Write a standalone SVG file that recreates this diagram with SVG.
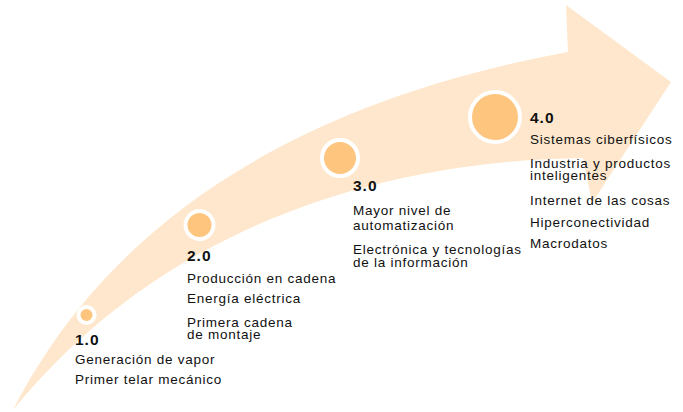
<svg xmlns="http://www.w3.org/2000/svg" width="683" height="412" viewBox="0 0 683 412">
<style>
.band{fill:#FEE7CC}
.dot{fill:#FDC57D;stroke:#FFFFFF}
.num{font-family:"Liberation Sans",Arial,sans-serif;font-weight:bold;font-size:15.5px;letter-spacing:1px;fill:#111}
.t{font-family:"Liberation Sans",Arial,sans-serif;font-size:13.5px;letter-spacing:0.75px;fill:#111}
</style>
<rect width="683" height="412" fill="#FFFFFF"/>
<g id="arrow">
<path class="band" d="M13,410 C70,300 200,120 568,52 L566,5 L671,82 L592,203 L583,158 C420,160 180,205 13,410 Z"/>
</g>
<g id="connectors"></g>
<g id="node-1">
<circle class="dot" cx="86.5" cy="315" r="8" stroke-width="4"/>
<text class="num" x="75" y="345">1.0</text>
<text class="t" x="75" y="364">Generación de vapor</text>
<text class="t" x="75" y="384">Primer telar mecánico</text>
</g>
<g id="node-2">
<circle class="dot" cx="199.5" cy="225" r="14" stroke-width="4"/>
<text class="num" x="187" y="261">2.0</text>
<text class="t" x="187" y="283">Producción en cadena</text>
<text class="t" x="187" y="303">Energía eléctrica</text>
<text class="t" x="187" y="327">Primera cadena</text>
<text class="t" x="187" y="339">de montaje</text>
</g>
<g id="node-3">
<circle class="dot" cx="340" cy="158" r="18" stroke-width="4"/>
<text class="num" x="353" y="191">3.0</text>
<text class="t" x="353" y="215">Mayor nivel de</text>
<text class="t" x="353" y="230">automatización</text>
<text class="t" x="353" y="254">Electrónica y tecnologías</text>
<text class="t" x="353" y="267">de la información</text>
</g>
<g id="node-4">
<circle class="dot" cx="495" cy="117" r="25" stroke-width="4"/>
<text class="num" x="530" y="123">4.0</text>
<text class="t" x="530" y="144">Sistemas ciberfísicos</text>
<text class="t" x="530" y="168">Industria y productos</text>
<text class="t" x="530" y="180">inteligentes</text>
<text class="t" x="530" y="205">Internet de las cosas</text>
<text class="t" x="530" y="227">Hiperconectividad</text>
<text class="t" x="530" y="248">Macrodatos</text>
</g>
</svg>
